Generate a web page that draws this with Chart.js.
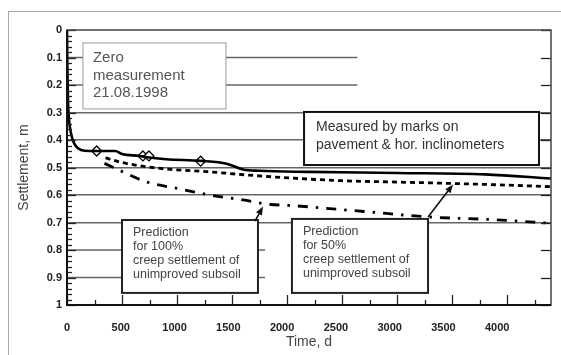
<!DOCTYPE html>
<html>
<head>
<meta charset="utf-8">
<script src="https://cdn.jsdelivr.net/npm/chart.js@4.4.1/dist/chart.umd.min.js"></script>
<style>
html, body { margin: 0; padding: 0; background: #fff; }
#wrap { width: 561px; height: 355px; position: relative; }
</style>
</head>
<body>
<div id="wrap"><canvas id="chart"></canvas></div>
<script>
// measured settlement (marks on pavement & hor. inclinometers)
const measuredDays = [0, 3, 8, 15, 27, 45, 65, 100, 160, 270, 440, 500, 660, 730, 900, 1220, 1450, 1600, 1750, 2200, 3000, 3800, 4400];
const measuredSettlement = [0, 0.12, 0.24, 0.31, 0.355, 0.39, 0.412, 0.43, 0.439, 0.44, 0.44, 0.451, 0.458, 0.463, 0.47, 0.476, 0.486, 0.507, 0.512, 0.516, 0.52, 0.525, 0.54];

// single survey points on the measured curve
const markerDays = [270, 690, 745, 1215];
const markerSettlement = [0.44, 0.458, 0.458, 0.477];

// prediction, 50% creep settlement
const pred50Days = [350, 500, 720, 940, 1270, 1630, 2060, 2500, 3000, 3500, 4000, 4400];
const pred50Settlement = [0.465, 0.482, 0.497, 0.507, 0.515, 0.527, 0.539, 0.548, 0.553, 0.558, 0.564, 0.57];

// prediction, 100% creep settlement
const pred100Days = [340, 470, 720, 1000, 1300, 1600, 1800, 2100, 2700, 3300, 3900, 4400];
const pred100Settlement = [0.485, 0.509, 0.552, 0.576, 0.6, 0.618, 0.632, 0.64, 0.66, 0.68, 0.69, 0.703];

const xTickLabels = ['0', '500', '1000', '1500', '2000', '2500', '3000', '3500', '4000'];
const yTickLabels = ['0', '0.1', '0.2', '0.3', '0.4', '0.5', '0.6', '0.7', '0.8', '0.9', '1'];

const FONT = '"Liberation Sans", Arial, sans-serif';

function pts(xs, ys) {
  return xs.map((v, i) => ({ x: v, y: ys[i] }));
}

// text boxes, corners in data units
const notes = [
  { x0: 145, x1: 1445, y0: 0.047, y1: 0.287, border: '#9a9a9a', bw: 1, color: '#555', size: 15, pad: 10, first: 15, lh: 17.5,
    lines: ['Zero', 'measurement', '21.08.1998'] },
  { x0: 2155, x1: 4291, y0: 0.298, y1: 0.491, border: '#111', bw: 2, color: '#333', size: 14, pad: 12, first: 15, lh: 18,
    lines: ['Measured by marks on', 'pavement & hor. inclinometers'] },
  { x0: 500, x1: 1736, y0: 0.691, y1: 0.956, border: '#222', bw: 2, color: '#444', size: 12.5, pad: 11, first: 13, lh: 14,
    lines: ['Prediction', 'for 100%', 'creep settlement of', 'unimproved subsoil'] },
  { x0: 2045, x1: 3282, y0: 0.687, y1: 0.956, border: '#222', bw: 2, color: '#444', size: 12.5, pad: 11, first: 13, lh: 14,
    lines: ['Prediction', 'for 50%', 'creep settlement of', 'unimproved subsoil'] }
];

const arrows = [
  { from: [1709, 0.695], to: [1782, 0.642] },
  { from: [3282, 0.68], to: [3509, 0.562] }
];

// grid lines that only run part of the way across
const partialGrid = [
  { at: 0.1, to: 2640 }, { at: 0.2, to: 2640 },
  { at: 0.8, to: 1800 }, { at: 0.9, to: 1800 }
];

const decor = {
  id: 'decor',
  beforeDatasetsDraw(chart) {
    const { ctx, scales: { x, y } } = chart;
    ctx.save();
    ctx.strokeStyle = '#666';
    ctx.lineWidth = 1.5;
    partialGrid.forEach(g => {
      const py = y.getPixelForValue(g.at);
      ctx.beginPath();
      ctx.moveTo(x.getPixelForValue(0), py);
      ctx.lineTo(x.getPixelForValue(g.to), py);
      ctx.stroke();
    });
    ctx.restore();
  },
  afterDatasetsDraw(chart) {
    const { ctx, scales: { x, y } } = chart;
    ctx.save();
    notes.forEach(n => {
      const l = x.getPixelForValue(n.x0), r = x.getPixelForValue(n.x1);
      const t = y.getPixelForValue(n.y0), b = y.getPixelForValue(n.y1);
      ctx.fillStyle = '#fff';
      ctx.fillRect(l, t, r - l, b - t);
      ctx.strokeStyle = n.border;
      ctx.lineWidth = n.bw;
      ctx.strokeRect(l, t, r - l, b - t);
      ctx.fillStyle = n.color;
      ctx.font = n.size + 'px ' + FONT;
      ctx.textBaseline = 'middle';
      ctx.textAlign = 'left';
      n.lines.forEach((s, i) => ctx.fillText(s, l + n.pad, t + n.first + i * n.lh));
    });
    // arrows
    ctx.strokeStyle = '#111';
    ctx.fillStyle = '#111';
    ctx.lineWidth = 1.6;
    arrows.forEach(a => {
      const x0 = x.getPixelForValue(a.from[0]), y0 = y.getPixelForValue(a.from[1]);
      const x1 = x.getPixelForValue(a.to[0]), y1 = y.getPixelForValue(a.to[1]);
      const ang = Math.atan2(y1 - y0, x1 - x0);
      ctx.beginPath();
      ctx.moveTo(x0, y0);
      ctx.lineTo(x1 - 5 * Math.cos(ang), y1 - 5 * Math.sin(ang));
      ctx.stroke();
      ctx.beginPath();
      ctx.moveTo(x1, y1);
      ctx.lineTo(x1 - 9 * Math.cos(ang - 0.38), y1 - 9 * Math.sin(ang - 0.38));
      ctx.lineTo(x1 - 9 * Math.cos(ang + 0.38), y1 - 9 * Math.sin(ang + 0.38));
      ctx.closePath();
      ctx.fill();
    });
    ctx.restore();
  },
  afterDraw(chart) {
    const { ctx, chartArea: a, scales: { x, y } } = chart;
    ctx.save();
    // outer picture frame
    ctx.strokeStyle = '#a8a8a8';
    ctx.lineWidth = 1;
    ctx.strokeRect(8.5, 11.5, 620, 400);
    // inward ticks
    ctx.strokeStyle = '#222';
    ctx.lineWidth = 1.3;
    for (let v = 0; v <= 1.0001; v += 0.02) {
      const py = Math.round(y.getPixelForValue(v)) + 0.5;
      const major = Math.abs(v * 10 - Math.round(v * 10)) < 0.01;
      ctx.beginPath();
      ctx.moveTo(a.left, py);
      ctx.lineTo(a.left + (major ? 9 : 5), py);
      ctx.stroke();
      if (major) {
        ctx.beginPath();
        ctx.moveTo(a.right, py);
        ctx.lineTo(a.right - 10, py);
        ctx.stroke();
      }
    }
    for (let v = 0; v <= x.max; v += 250) {
      const px = Math.round(x.getPixelForValue(v)) + 0.5;
      const major = v % 500 === 0;
      ctx.beginPath();
      ctx.moveTo(px, a.bottom);
      ctx.lineTo(px, a.bottom - (major ? 10 : 5));
      ctx.stroke();
    }
    // plot frame
    ctx.strokeStyle = '#444';
    ctx.lineWidth = 1.5;
    ctx.strokeRect(a.left, a.top, a.right - a.left, a.bottom - a.top);
    ctx.strokeStyle = '#111';
    ctx.lineWidth = 2;
    ctx.beginPath();
    ctx.moveTo(a.left, a.top);
    ctx.lineTo(a.left, a.bottom);
    ctx.lineTo(a.right, a.bottom);
    ctx.stroke();
    ctx.restore();
  }
};

Chart.defaults.font.family = FONT;

new Chart(document.getElementById('chart'), {
  type: 'scatter',
  data: {
    datasets: [
      {
        label: 'Measured by marks on pavement & hor. inclinometers',
        data: pts(measuredDays, measuredSettlement),
        showLine: true,
        borderColor: '#000',
        borderWidth: 2.6,
        pointRadius: 0,
        cubicInterpolationMode: 'monotone'
      },
      {
        label: 'Survey points',
        data: pts(markerDays, markerSettlement),
        showLine: false,
        pointStyle: 'rectRot',
        pointRadius: 5,
        pointBorderWidth: 1.3,
        pointBorderColor: '#000',
        pointBackgroundColor: '#fff'
      },
      {
        label: 'Prediction for 50% creep settlement',
        data: pts(pred50Days, pred50Settlement),
        showLine: true,
        borderColor: '#000',
        borderWidth: 2.8,
        borderDash: [5, 4],
        pointRadius: 0,
        cubicInterpolationMode: 'monotone'
      },
      {
        label: 'Prediction for 100% creep settlement',
        data: pts(pred100Days, pred100Settlement),
        showLine: true,
        borderColor: '#000',
        borderWidth: 2.8,
        borderDash: [10, 8, 2.5, 8],
        pointRadius: 0,
        cubicInterpolationMode: 'monotone'
      }
    ]
  },
  options: {
    responsive: true,
    maintainAspectRatio: false,
    animation: false,
    layout: { padding: { left: 0, top: 30, right: 10, bottom: 0 } },
    plugins: { legend: { display: false }, tooltip: { enabled: false } },
    scales: {
      x: {
        type: 'linear',
        min: 0,
        max: 4400,
        afterFit: s => { s.height = 50; },
        border: { display: false },
        grid: { display: false },
        ticks: {
          stepSize: 500,
          includeBounds: false,
          maxRotation: 0,
          autoSkip: false,
          padding: 8,
          color: '#222',
          font: { size: 11, weight: 'bold' },
          callback: v => xTickLabels[Math.round(v / 500)]
        },
        title: {
          display: true,
          text: 'Time, d',
          color: '#444',
          font: { size: 14 },
          padding: { top: 0, bottom: 4 }
        }
      },
      y: {
        type: 'linear',
        reverse: true,
        min: 0,
        max: 1,
        afterFit: s => { s.width = 67; },
        border: { display: false },
        grid: {
          drawTicks: false,
          lineWidth: 1.5,
          color: c => {
            const v = Math.round(c.tick.value * 10) / 10;
            return (v >= 0.3 && v <= 0.7) ? '#666' : 'rgba(0,0,0,0)';
          }
        },
        ticks: {
          stepSize: 0.1,
          padding: 5,
          color: '#222',
          font: { size: 11, weight: 'bold' },
          callback: v => yTickLabels[Math.round(v * 10)]
        },
        title: {
          display: true,
          text: 'Settlement, m',
          color: '#444',
          font: { size: 14 },
          padding: { top: 16, bottom: 0 }
        }
      }
    }
  },
  plugins: [decor]
});
</script>
</body>
</html>
